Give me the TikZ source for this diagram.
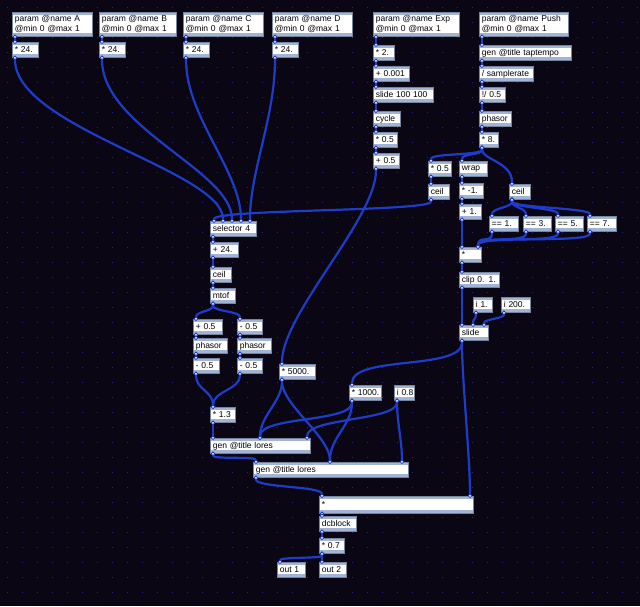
\documentclass[tikz,border=0pt]{standalone}
\usepackage{fontspec}
\setmainfont{Liberation Sans}
\usetikzlibrary{arrows.meta, calc}
\tikzset{
    maxbase/.style={rectangle, draw=boxedge, line width=0.6pt, fill=white, anchor=north west, inner xsep=2.5pt, inner ysep=0pt, text width=#1pt-5pt, minimum height=15pt, align=left, font=\fontsize{8.5}{10}\selectfont, path picture={\fill[boxstrip] (path picture bounding box.north west) rectangle ([yshift=-3pt]path picture bounding box.north east); \fill[boxstrip] (path picture bounding box.south west) rectangle ([yshift=3pt]path picture bounding box.south east);}},
    maxobj/.style={maxbase=#1, execute at begin node={\hbox\bgroup}, execute at end node={\egroup}},
    maxparam/.style={maxbase=#1, minimum height=24pt},
    inlet/.tip={Circle[length=4.4pt, width=4.4pt, fill=white, line width=0.8pt]},
    cord/.style={draw=cordblue, line width=2.2pt, shorten <=-2pt, shorten >=-2pt, inlet-inlet}
}
\definecolor{patchbg}{RGB}{10,6,20}
\definecolor{griddot}{RGB}{40,40,130}
\definecolor{cordblue}{RGB}{30,60,200}
\definecolor{boxedge}{RGB}{120,132,155}
\definecolor{boxstrip}{RGB}{162,180,212}

\begin{document}
\begin{tikzpicture}[x=1pt, y=-1pt]

\fill[patchbg] (0,0) rectangle (640,606);
\useasboundingbox (0,0) rectangle (640,606);
\foreach \gx in {0,...,42}
  \foreach \gy in {0,...,40}
    \fill[griddot] (\gx*15+7, \gy*15+7) rectangle +(1,1);

% params
\node[maxparam=80] (pA) at (12,12) {param @name A\\@min 0 @max 1};
\node[maxparam=77] (pB) at (99,12) {param @name B\\@min 0 @max 1};
\node[maxparam=80] (pC) at (183,12) {param @name C\\@min 0 @max 1};
\node[maxparam=80] (pD) at (272,12) {param @name D\\@min 0 @max 1};
\node[maxparam=86] (pExp) at (373,12) {param @name Exp\\@min 0 @max 1};
\node[maxparam=89] (pPush) at (479,12) {param @name Push\\@min 0 @max 1};

\node[maxobj=26] (mA) at (12,42) {* 24.};
\node[maxobj=26] (mB) at (99,42) {* 24.};
\node[maxobj=26] (mC) at (183,42) {* 24.};
\node[maxobj=26] (mD) at (272,42) {* 24.};

% exp chain
\node[maxobj=21] (e1) at (373,45) {* 2.};
\node[maxobj=36] (e2) at (373,66) {+ 0.001};
\node[maxobj=60] (e3) at (373,87) {slide 100 100};
\node[maxobj=27] (e4) at (373,111) {cycle};
\node[maxobj=24] (e5) at (373,132) {* 0.5};
\node[maxobj=26] (e6) at (373,153) {+ 0.5};

% push chain
\node[maxobj=92] (t1) at (479,45) {gen @title taptempo};
\node[maxobj=54] (t2) at (479,66) {/ samplerate};
\node[maxobj=26] (t3) at (479,87) {!/ 0.5};
\node[maxobj=32] (t4) at (479,111) {phasor};
\node[maxobj=19] (t5) at (479,132) {* 8.};

\node[maxobj=23] (h) at (428,161) {* 0.5};
\node[maxobj=21] (hc) at (428,184) {ceil};
\node[maxobj=28] (wr) at (459,161) {wrap};
\node[maxobj=24] (ng) at (459,183) {* -1.};
\node[maxobj=22] (p1) at (459,204) {+ 1.};
\node[maxobj=21] (rc) at (509,184) {ceil};
\node[maxobj=29] (q1) at (489,216) {== 1.};
\node[maxobj=28] (q3) at (523,216) {== 3.};
\node[maxobj=28] (q5) at (555,216) {== 5.};
\node[maxobj=29] (q7) at (587,216) {== 7.};
\node[maxobj=22] (mul) at (459,247) {*};
\node[maxobj=40] (clip) at (459,272) {clip 0. 1.};
\node[maxobj=19] (i1) at (473,297) {i 1.};
\node[maxobj=29] (i2) at (501,297) {i 200.};
\node[maxobj=29] (sl) at (459,325) {slide};

% voice
\node[maxobj=46] (sel) at (210,221) {selector 4};
\node[maxobj=28] (s1) at (210,242) {+ 24.};
\node[maxobj=21] (s2) at (210,267) {ceil};
\node[maxobj=25] (s3) at (210,288) {mtof};
\node[maxobj=29] (a1) at (193,319) {+ 0.5};
\node[maxobj=25] (b1) at (237,319) {- 0.5};
\node[maxobj=34] (a2) at (193,338) {phasor};
\node[maxobj=34] (b2) at (237,338) {phasor};
\node[maxobj=26] (a3) at (193,358) {- 0.5};
\node[maxobj=25] (b3) at (237,358) {- 0.5};
\node[maxobj=25] (m13) at (210,407) {* 1.3};
\node[maxobj=36] (m5k) at (279,364) {* 5000.};
\node[maxobj=32] (m1k) at (349,385) {* 1000.};
\node[maxobj=20] (i08) at (394,385) {i 0.8};
\node[maxobj=100] (g1) at (210,438) {gen @title lores};
\node[maxobj=155] (g2) at (253,462) {gen @title lores};
\node[maxobj=154, minimum height=17pt] (big) at (319,496) {*};
\node[maxobj=37] (dc) at (319,516) {dcblock};
\node[maxobj=25] (m07) at (319,538) {* 0.7};
\node[maxobj=28] (o1) at (277,562) {out 1};
\node[maxobj=27] (o2) at (319,562) {out 2};

\foreach \a/\b in {pA/mA, pB/mB, pC/mC, pD/mD, pExp/e1, e1/e2, e2/e3, e3/e4, e4/e5, e5/e6, pPush/t1, t1/t2, t2/t3, t3/t4, t4/t5, h/hc, wr/ng, ng/p1, p1/mul, mul/clip, clip/sl, sel/s1, s1/s2, s2/s3, a1/a2, a2/a3, b1/b2, b2/b3, m13/g1, big/dc, dc/m07, m07/o2}
  \draw[cord] ([xshift=3pt]\a.south west) -- ([xshift=3pt]\b.north west);

\draw[cord] ([xshift=3pt]mA.south west) .. controls +(0,70) and +(0,-50) .. ([xshift=13pt]sel.north west);
\draw[cord] ([xshift=3pt]mB.south west) .. controls +(0,70) and +(0,-50) .. ([xshift=22pt]sel.north west);
\draw[cord] ([xshift=3pt]mC.south west) .. controls +(0,60) and +(0,-50) .. ([xshift=31pt]sel.north west);
\draw[cord] ([xshift=3pt]mD.south west) .. controls +(0,60) and +(0,-50) .. ([xshift=40pt]sel.north west);
\draw[cord] ([xshift=3pt]hc.south west) .. controls +(0,12) and +(0,-12) .. ([xshift=4pt]sel.north west);
\draw[cord] ([xshift=3pt]e6.south west) .. controls +(0,50) and +(0,-50) .. ([xshift=3pt]m5k.north west);

\draw[cord] ([xshift=3pt]t5.south west) .. controls +(0,8) and +(0,-8) .. ([xshift=3pt]h.north west);
\draw[cord] ([xshift=3pt]t5.south west) .. controls +(0,8) and +(0,-8) .. ([xshift=3pt]wr.north west);
\draw[cord] ([xshift=3pt]t5.south west) .. controls +(0,12) and +(0,-22) .. ([xshift=3pt]rc.north west);
\foreach \q in {q1, q3, q5, q7} {
  \draw[cord] ([xshift=3pt]rc.south west) .. controls +(0,8) and +(0,-8) .. ([xshift=3pt]\q.north west);
  \draw[cord] ([xshift=3pt]\q.south west) .. controls +(0,12) and +(0,-12) .. ([xshift=19pt]mul.north west);
}
\draw[cord] ([xshift=3pt]i1.south west) .. controls +(0,6) and +(0,-6) .. ([xshift=14pt]sl.north west);
\draw[cord] ([xshift=3pt]i2.south west) .. controls +(0,6) and +(0,-6) .. ([xshift=25pt]sl.north west);
\draw[cord] ([xshift=3pt]sl.south west) .. controls +(0,30) and +(0,-30) .. ([xshift=3pt]m1k.north west);
\draw[cord] ([xshift=3pt]sl.south west) .. controls +(0,40) and +(0,-40) .. ([xshift=151pt]big.north west);

\draw[cord] ([xshift=3pt]s3.south west) .. controls +(0,8) and +(0,-8) .. ([xshift=3pt]a1.north west);
\draw[cord] ([xshift=3pt]s3.south west) .. controls +(0,8) and +(0,-8) .. ([xshift=3pt]b1.north west);
\draw[cord] ([xshift=3pt]a3.south west) .. controls +(0,16) and +(0,-16) .. ([xshift=3pt]m13.north west);
\draw[cord] ([xshift=3pt]b3.south west) .. controls +(0,16) and +(0,-16) .. ([xshift=3pt]m13.north west);

\foreach \s in {m5k, m1k} {
  \draw[cord] ([xshift=3pt]\s.south west) .. controls +(0,22) and +(0,-22) .. ([xshift=50pt]g1.north west);
  \draw[cord] ([xshift=3pt]\s.south west) .. controls +(0,25) and +(0,-25) .. ([xshift=77pt]g2.north west);
}
\draw[cord] ([xshift=3pt]i08.south west) .. controls +(0,20) and +(0,-20) .. ([xshift=97pt]g1.north west);
\draw[cord] ([xshift=3pt]i08.south west) .. controls +(0,20) and +(0,-20) .. ([xshift=149pt]g2.north west);
\draw[cord] ([xshift=3pt]g1.south west) .. controls +(0,6) and +(0,-6) .. ([xshift=3pt]g2.north west);
\draw[cord] ([xshift=3pt]g2.south west) .. controls +(0,10) and +(0,-10) .. ([xshift=3pt]big.north west);
\draw[cord] ([xshift=3pt]m07.south west) .. controls +(0,5) and +(0,-5) .. ([xshift=3pt]o1.north west);

\end{tikzpicture}
\end{document}
